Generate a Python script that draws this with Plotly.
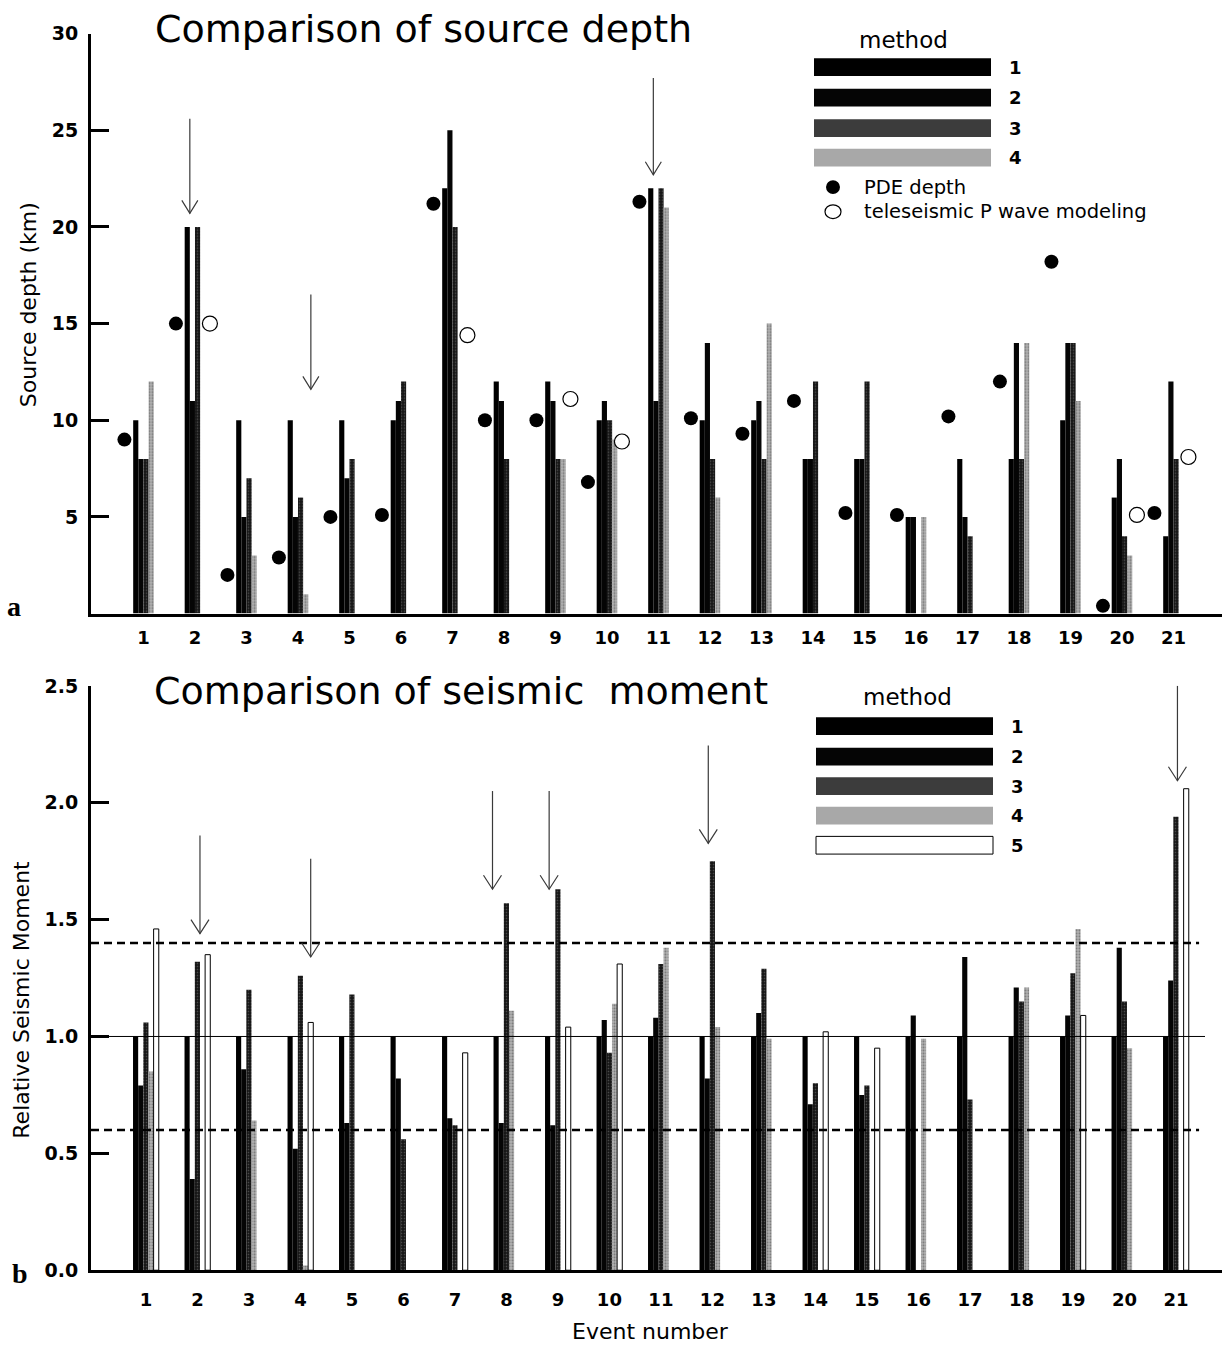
import plotly.graph_objects as go

# ---------------- data ----------------
events = list(range(1, 22))
event_labels = [str(e) for e in events]

# (a) source depth (km) by method
depth_method1 = [10, 20, 10, 10, 10, 10, 22, 12, 12, 10, 22, 10, 10, 8, 8, 5, 8, 8, 10, 6, 4]
depth_method2 = [8, 11, 5, 5, 7, 11, 25, 11, 11, 11, 11, 14, 11, 8, 8, 5, 5, 14, 14, 8, 12]
depth_method3 = [8, 20, 7, 6, 8, 12, 20, 8, 8, 10, 22, 8, 8, 12, 12, None, 4, 8, 14, 4, 8]
depth_method4 = [12, None, 3, 1, None, None, None, None, 8, 9, 21, 6, 15, None, None, 5, None, 14, 11, 3, None]
pde_depth = [9, 15, 2, 2.9, 5, 5.1, 21.2, 10, 10, 6.8, 21.3, 10.1, 9.3, 11, 5.2, 5.1, 10.2, 12, 18.2, 0.4, 5.2]
pwave_depth = [None, 15, None, None, None, None, 14.4, None, 11.1, 8.9, None, None, None, None, None, None,
               None, None, None, 5.1, 8.1]
depth_ticks = [5, 10, 15, 20, 25, 30]

# (b) relative seismic moment by method
moment_method1 = [1.0, 1.0, 1.0, 1.0, 1.0, 1.0, 1.0, 1.0, 1.0, 1.0, 1.0, 1.0, 1.0, 1.0, 1.0, 1.0, 1.0, 1.0, 1.0, 1.0, 1.0]
moment_method2 = [0.79, 0.39, 0.86, 0.52, 0.63, 0.82, 0.65, 0.63, 0.62, 1.07, 1.08, 0.82, 1.10, 0.71, 0.75, 1.09,
                  1.34, 1.21, 1.09, 1.38, 1.24]
moment_method3 = [1.06, 1.32, 1.20, 1.26, 1.18, 0.56, 0.62, 1.57, 1.63, 0.93, 1.31, 1.75, 1.29, 0.80, 0.79, None,
                  0.73, 1.15, 1.27, 1.15, 1.94]
moment_method4 = [0.85, None, 0.64, 0.02, None, None, None, 1.11, None, 1.14, 1.38, 1.04, 0.99, None, None, 0.99,
                  None, 1.21, 1.46, 0.95, None]
moment_method5 = [1.46, 1.35, None, 1.06, None, None, 0.93, None, 1.04, 1.31, None, None, None, 1.02, 0.95, None,
                  None, None, 1.09, None, 2.06]
moment_ticks = [0.0, 0.5, 1.0, 1.5, 2.0, 2.5]
moment_ref = 1.0
moment_band = [0.6, 1.4]

# arrows: (x in event units, start value, tip value)
depth_arrows = [(1.90, 25.6, 20.7), (4.25, 16.5, 11.6), (10.90, 27.7, 22.7)]
moment_arrows = [(2.05, 1.86, 1.44), (4.20, 1.76, 1.34), (7.73, 2.05, 1.63), (8.83, 2.05, 1.63),
                 (11.92, 2.245, 1.826), (21.03, 2.5, 2.094)]

# ---------------- styling ----------------
W, H = 1222, 1355
FONT = "DejaVu Sans"


def px_x(p):
    return p / W


def px_y(p):
    return 1 - p / H


styles = {
    1: dict(color="#000000"),
    2: dict(color="#050505"),
    3: dict(color="#151515", pattern=dict(shape=".", fgcolor="#8a8a8a", bgcolor="#151515", size=3, solidity=0.25)),
    4: dict(color="#b4b4b4", pattern=dict(shape=".", fgcolor="#3c3c3c", bgcolor="#b4b4b4", size=3, solidity=0.4)),
    5: dict(color="#ffffff"),
}

fig = go.Figure()

bw = 0.1
depth_series = [depth_method1, depth_method2, depth_method3, depth_method4]
for k, vals in enumerate(depth_series):
    m = k + 1
    mk = dict(styles[m])
    mk["line"] = dict(width=0)
    fig.add_trace(go.Bar(x=events, y=vals, width=bw, offset=-0.2 + k * bw, marker=mk,
                         xaxis="x", yaxis="y", showlegend=False, name=f"method {m}"))

fig.add_trace(go.Scatter(x=[e - 0.37 for e in events], y=pde_depth, mode="markers",
                         marker=dict(size=14, color="black"), xaxis="x", yaxis="y",
                         showlegend=False, name="PDE depth"))
fig.add_trace(go.Scatter(x=[e + 0.29 for e in events], y=pwave_depth, mode="markers",
                         marker=dict(size=15, color="white", line=dict(color="black", width=1.2)),
                         xaxis="x", yaxis="y", showlegend=False, name="teleseismic P wave modeling"))

moment_series = [moment_method1, moment_method2, moment_method3, moment_method4, moment_method5]
for k, vals in enumerate(moment_series):
    m = k + 1
    mk = dict(styles[m])
    mk["line"] = dict(width=1, color="black") if m == 5 else dict(width=0)
    fig.add_trace(go.Bar(x=events, y=vals, width=bw, offset=-0.25 + k * bw, marker=mk,
                         xaxis="x2", yaxis="y2", showlegend=False, name=f"method {m}"))

shapes = []
# reference lines in (b)
x2_start = -0.066
shapes.append(dict(type="line", xref="x2", yref="y2", x0=x2_start, x1=21.565, y0=moment_ref, y1=moment_ref,
                   line=dict(color="black", width=1)))
for v in moment_band:
    shapes.append(dict(type="line", xref="x2", yref="y2", x0=x2_start, x1=21.45, y0=v, y1=v,
                       line=dict(color="black", width=2.5, dash="8px,5px")))

# arrows
def add_arrow(xr, yr, x, y0, y1, hw, hh):
    shapes.append(dict(type="line", xref=xr, yref=yr, x0=x, x1=x, y0=y0, y1=y1,
                       line=dict(color="#3a3a3a", width=1.2)))
    shapes.append(dict(type="path", xref=xr, yref=yr, xsizemode="pixel", ysizemode="pixel",
                       xanchor=x, yanchor=y1, path=f"M{-hw},{hh} L0,0 L{hw},{hh}",
                       line=dict(color="#3a3a3a", width=1.2)))


for (x, a, b) in depth_arrows:
    add_arrow("x", "y", x, a, b, 8, 13)
for (x, a, b) in moment_arrows:
    add_arrow("x2", "y2", x, a, b, 9, 14)

# legend swatches
legend_fill = {1: "#000000", 2: "#050505", 3: "#3c3c3c", 4: "#a8a8a8", 5: "#ffffff"}
top_rows = [57, 88, 119, 149]
for i, yc in enumerate(top_rows):
    m = i + 1
    shapes.append(dict(type="rect", xref="paper", yref="paper", x0=px_x(814), x1=px_x(991),
                       y0=px_y(yc + 9), y1=px_y(yc - 9), fillcolor=legend_fill[m], line=dict(width=0)))
bot_rows = [727, 758, 788, 818, 848]
for i, yc in enumerate(bot_rows):
    m = i + 1
    shapes.append(dict(type="rect", xref="paper", yref="paper", x0=px_x(816), x1=px_x(993),
                       y0=px_y(yc + 9), y1=px_y(yc - 9), fillcolor=legend_fill[m],
                       line=dict(width=1 if m == 5 else 0, color="black")))
shapes.append(dict(type="circle", xref="paper", yref="paper", x0=px_x(826), x1=px_x(840),
                   y0=px_y(186), y1=px_y(172), fillcolor="black", line=dict(width=0)))
shapes.append(dict(type="circle", xref="paper", yref="paper", x0=px_x(825), x1=px_x(841),
                   y0=px_y(211), y1=px_y(197), fillcolor="white", line=dict(color="black", width=1.2)))

annotations = []


def txt(text, x, y, size, xanchor="center", yanchor="middle", angle=0, family=FONT, weight="normal"):
    annotations.append(dict(text=text, xref="paper", yref="paper", x=px_x(x), y=px_y(y),
                            xanchor=xanchor, yanchor=yanchor, textangle=angle, showarrow=False,
                            font=dict(family=family, size=size, color="black", weight=weight)))


txt("Comparison of source depth", 153, 18, 38, xanchor="left")
txt("Comparison of seismic\u00a0 moment", 152, 691, 38, xanchor="left")
txt("method", 903, 29, 23)
txt("method", 907, 697, 23)
for i, yc in enumerate(top_rows):
    txt(str(i + 1), 1015, yc, 18, weight="bold")
for i, yc in enumerate(bot_rows):
    txt(str(i + 1), 1017, yc, 18, weight="bold")
txt("PDE depth", 862, 179, 19.5, xanchor="left")
txt("teleseismic P wave modeling", 862, 204, 19.5, xanchor="left")
txt("Source depth (km)", 28, 299, 22, angle=-90)
txt("Relative Seismic Moment", 22, 1005, 22, angle=-90)
txt("Event number", 650, 1342, 22)
txt("a", 14, 605, 28, family="Liberation Serif", weight="bold")
txt("b", 20, 1283, 28, family="Liberation Serif", weight="bold")

xtickfont = dict(family=FONT, size=18, color="black", weight="bold")
ytickfont = dict(family=FONT, size=19, color="black", weight="bold")
common_x = dict(showline=True, linewidth=3, linecolor="black", ticks="", showgrid=False, zeroline=False,
                tickmode="array", tickvals=events, ticktext=event_labels, tickfont=xtickfont)
common_y = dict(showline=True, linewidth=3, linecolor="black", ticks="inside", ticklen=18, tickwidth=3,
                tickcolor="black", showgrid=False, zeroline=False, tickmode="array", tickfont=ytickfont,
                ticklabelstandoff=6)

fig.update_layout(
    width=W, height=H, autosize=False,
    margin=dict(l=0, r=0, t=0, b=0),
    paper_bgcolor="white", plot_bgcolor="white",
    barmode="overlay",
    showlegend=False,
    xaxis=dict(domain=[px_x(91), 1], range=[-0.019, 21.942], anchor="y", ticklabelstandoff=6, **common_x),
    yaxis=dict(domain=[px_y(612.5), px_y(23)], range=[0, 30], anchor="x", tickvals=depth_ticks,
               ticktext=[str(t) for t in depth_ticks], **common_y),
    xaxis2=dict(domain=[px_x(91), 1], range=[-0.066, 21.895], anchor="y2", ticklabelstandoff=11, **common_x),
    yaxis2=dict(domain=[px_y(1280), px_y(686)], range=[0, 2.5], anchor="x2", tickvals=moment_ticks,
                ticktext=[f"{t:.1f}" for t in moment_ticks], **common_y),
    shapes=shapes,
    annotations=annotations,
)

fig.write_html("out.html", config={"displayModeBar": False},
               post_script="document.body.style.margin='0';document.body.style.overflow='hidden';")
